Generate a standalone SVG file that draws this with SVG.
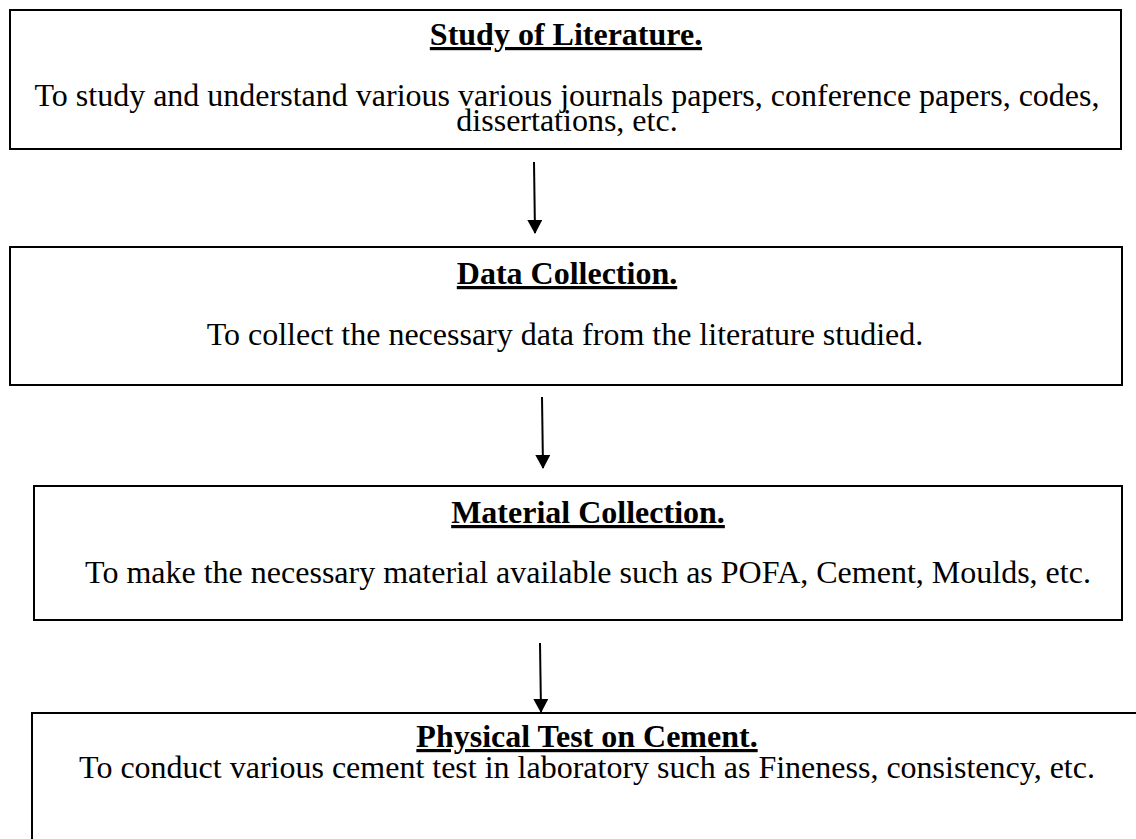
<svg xmlns="http://www.w3.org/2000/svg" width="1136" height="839" viewBox="0 0 1136 839">
  <style>
    .box { fill: #ffffff; stroke: #000000; stroke-width: 2; }
    .title { font-family: "Liberation Serif", "Times New Roman", serif; font-weight: bold; font-size: 32px; text-anchor: middle; text-decoration: underline; fill: #000000; }
    .body { font-family: "Liberation Serif", "Times New Roman", serif; font-size: 32px; text-anchor: middle; fill: #000000; }
    .conn { stroke: #000000; stroke-width: 2; fill: none; }
  </style>
  <defs>
    <marker id="arrow" markerWidth="14" markerHeight="15" refX="13" refY="7.5" orient="auto" markerUnits="userSpaceOnUse" viewBox="0 0 14 15">
      <path d="M0,0 L14,7.5 L0,15 Z" fill="#000000"/>
    </marker>
  </defs>
  <rect width="1136" height="839" fill="#ffffff"/>

  <g id="study-of-literature">
    <rect class="box" x="10" y="10" width="1111" height="139"/>
    <text class="title" x="566" y="45">Study of Literature.</text>
    <text class="body" x="567" y="106">To study and understand various various journals papers, conference papers, codes,</text>
    <text class="body" x="567" y="131">dissertations, etc.</text>
  </g>

  <g id="data-collection">
    <rect class="box" x="10" y="247" width="1112" height="138"/>
    <text class="title" x="567" y="284">Data Collection.</text>
    <text class="body" x="565" y="345">To collect the necessary data from the literature studied.</text>
  </g>

  <g id="material-collection">
    <rect class="box" x="34" y="486" width="1088" height="134"/>
    <text class="title" x="588" y="523">Material Collection.</text>
    <text class="body" x="588" y="583">To make the necessary material available such as POFA, Cement, Moulds, etc.</text>
  </g>

  <g id="physical-test-on-cement">
    <rect class="box" x="32" y="713" width="1120" height="140"/>
    <text class="title" x="587" y="747">Physical Test on Cement.</text>
    <text class="body" x="587" y="778">To conduct various cement test in laboratory such as Fineness, consistency, etc.</text>
  </g>

  <g id="connectors">
    <line class="conn" x1="534" y1="162" x2="535" y2="233" marker-end="url(#arrow)"/>
    <line class="conn" x1="542" y1="397" x2="543" y2="468" marker-end="url(#arrow)"/>
    <line class="conn" x1="540" y1="643" x2="541" y2="712" marker-end="url(#arrow)"/>
  </g>
</svg>
